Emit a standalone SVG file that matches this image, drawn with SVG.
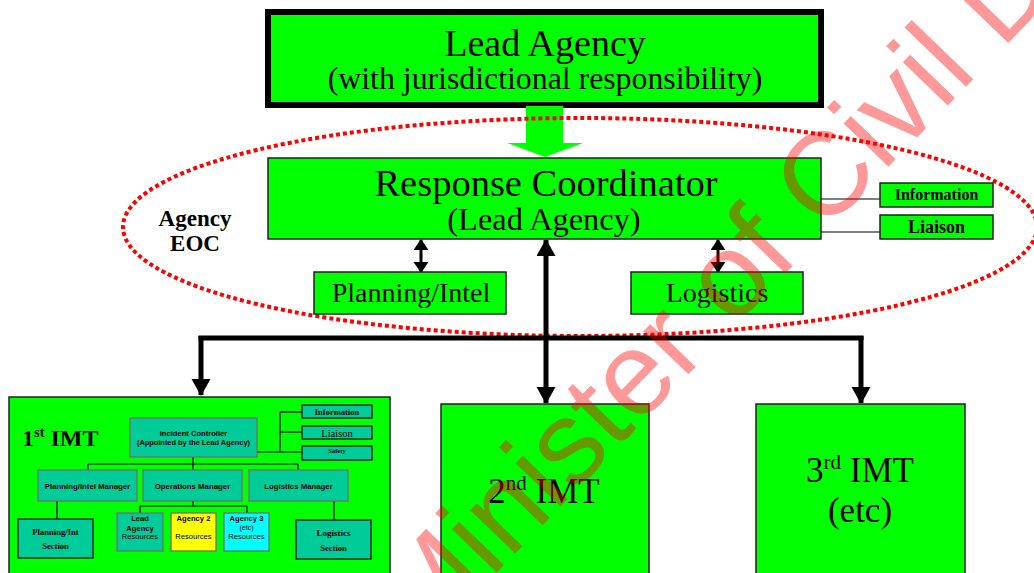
<svg xmlns="http://www.w3.org/2000/svg" width="1034" height="573" viewBox="0 0 1034 573">
  <defs>
    <style>
      .g { fill: #00ff00; stroke: #222; stroke-width: 1.5; }
      .t { fill: #00cc99; stroke: #707070; stroke-width: 1.3; }
      .tb { fill: #00cc99; stroke: #111; stroke-width: 1.3; }
      .serif { font-family: "Liberation Serif", "Times New Roman", serif; fill: #000; }
      .sans { font-family: "Liberation Sans", Arial, sans-serif; fill: #000; }
      .c { text-anchor: middle; }
      .b { font-weight: bold; }
      .thick { stroke: #000; stroke-width: 5; fill: none; }
      .mid { stroke: #000; stroke-width: 3; fill: none; }
      .thin { stroke: #000; stroke-width: 1.2; fill: none; }
    </style>
    <marker id="bigHead" markerUnits="userSpaceOnUse" markerWidth="20" markerHeight="20" refX="16" refY="9.5" orient="auto-start-reverse">
      <path d="M0,0 L17,9.5 L0,19 z" fill="#000"/>
    </marker>
    <marker id="smallHead" markerUnits="userSpaceOnUse" markerWidth="15" markerHeight="16" refX="10" refY="7.5" orient="auto-start-reverse">
      <path d="M0,0 L11,7.5 L0,15 z" fill="#000"/>
    </marker>
  </defs>

  <rect width="1034" height="573" fill="#ffffff"/>

  <!-- top agency box -->
  <g id="lead-agency">
    <rect x="268" y="12" width="553" height="93" fill="#00ff00" stroke="#000" stroke-width="6"/>
    <text class="serif c" x="545" y="56" font-size="38">Lead Agency</text>
    <text class="serif c" x="545" y="89" font-size="31.8">(with jurisdictional responsibility)</text>
  </g>

  <!-- broad green arrow into the coordinator -->
  <g id="lead-arrow">
    <polygon points="526,106 563,106 563,143 583,143 545,157 507,143 526,143" fill="#00ff00"/>
  </g>

  <!-- EOC boundary -->
  <g id="agency-eoc">
    <ellipse cx="580" cy="227" rx="457" ry="109" fill="none" stroke="#ff0000" stroke-width="4" stroke-dasharray="4 3"/>
    <text class="serif c b" x="195" y="226" font-size="23">Agency</text>
    <text class="serif c b" x="195" y="251" font-size="23">EOC</text>
  </g>

  <g id="connectors">
    <!-- coordinator staff lines -->
    <line class="thin" x1="821" y1="199" x2="880" y2="199"/>
    <line class="thin" x1="821" y1="232" x2="880" y2="232"/>
    <!-- coordinator to planning / logistics -->
    <line class="mid" x1="421" y1="240" x2="421" y2="272" marker-start="url(#smallHead)" marker-end="url(#smallHead)"/>
    <line class="mid" x1="718" y1="240" x2="718" y2="272" marker-start="url(#smallHead)" marker-end="url(#smallHead)"/>
    <!-- coordinator to IMTs -->
    <line class="thick" x1="546" y1="240" x2="546" y2="403" marker-start="url(#bigHead)" marker-end="url(#bigHead)"/>
    <line class="thick" x1="198.5" y1="338" x2="863.5" y2="338"/>
    <line class="thick" x1="201" y1="336" x2="201" y2="395" marker-end="url(#bigHead)"/>
    <line class="thick" x1="861" y1="336" x2="861" y2="403" marker-end="url(#bigHead)"/>
  </g>

  <g id="response-coordinator">
    <rect class="g" x="268" y="158" width="553" height="81"/>
    <text class="serif c" x="546" y="196" font-size="38.5">Response Coordinator</text>
    <text class="serif c" x="544" y="230" font-size="32.4">(Lead Agency)</text>
  </g>

  <g id="information">
    <rect class="g" x="880" y="183" width="113" height="24"/>
    <text class="serif c b" x="936.5" y="200" font-size="16">Information</text>
  </g>

  <g id="liaison">
    <rect class="g" x="880" y="215" width="113" height="24"/>
    <text class="serif c b" x="936.5" y="233" font-size="18">Liaison</text>
  </g>

  <g id="planning-intel">
    <rect class="g" x="314" y="272" width="192" height="42"/>
    <text class="serif c" x="411" y="302" font-size="28">Planning/Intel</text>
  </g>

  <g id="logistics">
    <rect class="g" x="631" y="272" width="172" height="42"/>
    <text class="serif c" x="717" y="302" font-size="28">Logistics</text>
  </g>

  <!-- first incident management team, with its own structure -->
  <g id="imt-1">
    <rect class="g" x="9" y="397" width="381" height="180"/>
    <text class="serif b" x="22" y="446" font-size="24">1<tspan font-size="14.5" dy="-9">st</tspan><tspan dy="9"> IMT</tspan></text>

    <g id="imt-1-lines">
      <line class="thin" x1="257" y1="452" x2="302" y2="452"/>
      <line class="thin" x1="280" y1="412" x2="280" y2="452"/>
      <line class="thin" x1="280" y1="412" x2="302" y2="412"/>
      <line class="thin" x1="280" y1="432" x2="302" y2="432"/>
      <line class="thin" x1="193" y1="457" x2="193" y2="470"/>
      <line class="thin" x1="88" y1="464" x2="298" y2="464"/>
      <line class="thin" x1="88" y1="464" x2="88" y2="470"/>
      <line class="thin" x1="298" y1="464" x2="298" y2="470"/>
      <line class="thin" x1="193" y1="501" x2="193" y2="506"/>
      <line class="thin" x1="140" y1="506" x2="247" y2="506"/>
      <line class="thin" x1="140" y1="506" x2="140" y2="513"/>
      <line class="thin" x1="247" y1="506" x2="247" y2="513"/>
      <line class="thin" x1="57" y1="501" x2="57" y2="519"/>
      <line class="thin" x1="334" y1="501" x2="334" y2="520"/>
    </g>

    <g id="incident-controller">
      <rect class="t" x="130" y="418" width="127" height="39"/>
      <text class="sans c b" x="193.5" y="436" font-size="7.6">Incident Controller</text>
      <text class="sans c" x="193.5" y="445" font-size="7.4" font-weight="600">(Appointed by the Lead Agency)</text>
    </g>

    <g id="imt-information">
      <rect class="tb" x="302" y="405" width="70" height="13"/>
      <text class="serif c b" x="337" y="415" font-size="8.5">Information</text>
    </g>
    <g id="imt-liaison">
      <rect class="tb" x="302" y="426" width="70" height="13"/>
      <text class="serif c" x="337" y="436.5" font-size="10.5">Liaison</text>
    </g>
    <g id="imt-safety">
      <rect class="tb" x="302" y="446" width="70" height="14"/>
      <text class="serif c b" x="337" y="452.5" font-size="6.5">Safety</text>
    </g>

    <g id="planning-manager">
      <rect class="t" x="38" y="470" width="99" height="31"/>
      <text class="sans c b" x="87.5" y="488.5" font-size="7.8">Planning/Intel Manager</text>
    </g>
    <g id="operations-manager">
      <rect class="t" x="143" y="470" width="99" height="31"/>
      <text class="sans c b" x="192.5" y="488.5" font-size="7.8">Operations Manager</text>
    </g>
    <g id="logistics-manager">
      <rect class="t" x="249" y="470" width="99" height="31"/>
      <text class="sans c b" x="298.5" y="488.5" font-size="7.8">Logistics Manager</text>
    </g>

    <g id="lead-agency-resources">
      <rect class="t" x="117" y="513" width="46" height="38"/>
      <text class="sans c b" x="140" y="521" font-size="7.6">Lead</text>
      <text class="sans c b" x="140" y="530.5" font-size="7.6">Agency</text>
      <text class="sans c" x="140" y="539" font-size="7.6">Resources</text>
    </g>
    <g id="agency-2-resources">
      <rect x="171" y="513" width="45" height="38" fill="#ffff00" stroke="#707070" stroke-width="1.3"/>
      <text class="sans c b" x="193.5" y="521" font-size="7.6">Agency 2</text>
      <text class="sans c" x="193.5" y="539" font-size="7.6">Resources</text>
    </g>
    <g id="agency-3-resources">
      <rect x="224" y="513" width="45" height="38" fill="#00ffff" stroke="#707070" stroke-width="1.3"/>
      <text class="sans c b" x="246.5" y="521" font-size="7.6">Agency 3</text>
      <text class="sans c" x="246.5" y="530" font-size="7">(etc)</text>
      <text class="sans c" x="246.5" y="539" font-size="7.6">Resources</text>
    </g>

    <g id="planning-section">
      <rect class="tb" x="18" y="519" width="75" height="39"/>
      <text class="serif c b" x="55.5" y="535" font-size="8.6">Planning/Int</text>
      <text class="serif c b" x="55.5" y="549" font-size="8.6">Section</text>
    </g>
    <g id="logistics-section">
      <rect class="tb" x="296" y="520" width="75" height="39"/>
      <text class="serif c b" x="333.5" y="536" font-size="9">Logistics</text>
      <text class="serif c b" x="333.5" y="551" font-size="8.6">Section</text>
    </g>
  </g>

  <g id="imt-2">
    <rect class="g" x="441" y="404" width="208" height="175"/>
    <text class="serif c" x="544" y="503" font-size="35">2<tspan font-size="21" dy="-13">nd</tspan><tspan dy="13"> IMT</tspan></text>
  </g>

  <g id="imt-3">
    <rect class="g" x="756" y="404" width="209" height="175"/>
    <text class="serif c" x="860" y="482" font-size="35">3<tspan font-size="21" dy="-13">rd</tspan><tspan dy="13"> IMT</tspan></text>
    <text class="serif c" x="860" y="522" font-size="35">(etc)</text>
  </g>

  <!-- diagonal watermark across the page -->
  <g id="watermark" opacity="0.4">
    <text x="423" y="649" transform="rotate(-46 423 649)" font-family="Liberation Sans, Arial, sans-serif" font-size="118" fill="#ff0000">Minister of Civil D</text>
  </g>
</svg>
